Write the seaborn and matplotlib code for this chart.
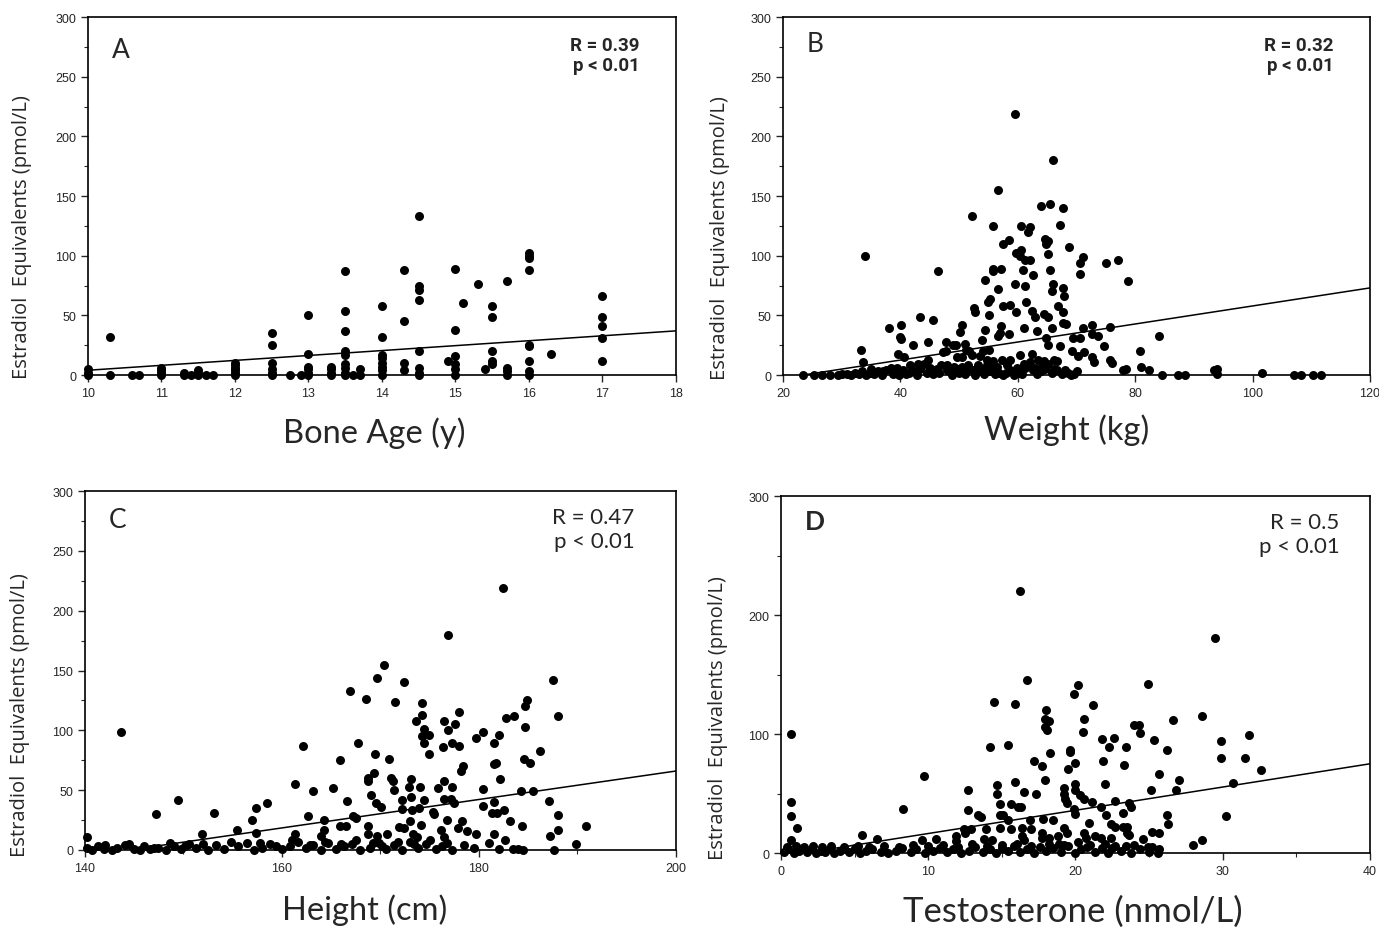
import numpy as np
import pandas as pd
import seaborn as sns
import matplotlib.pyplot as plt
from matplotlib.ticker import MultipleLocator

# ---------- data ----------
# Panel A: bone age (y) vs estradiol equivalents (pmol/L)
a_x = [10.0, 10.0, 10.0, 10.3, 10.3, 10.6, 10.7, 11.0, 11.0, 11.0, 11.0,
       11.3, 11.3, 11.4, 11.5, 11.5, 11.5, 11.6, 11.7,
       12.0, 12.0, 12.0, 12.0, 12.0, 12.0,
       12.5, 12.5, 12.5, 12.5, 12.5, 12.5, 12.75, 12.9,
       13.0, 13.0, 13.0, 13.0, 13.0, 13.0,
       13.3, 13.3, 13.3, 13.3,
       13.5, 13.5, 13.5, 13.5, 13.5, 13.5, 13.5, 13.5, 13.5,
       13.6, 13.7, 13.7,
       14.0, 14.0, 14.0, 14.0, 14.0, 14.0, 14.0, 14.0,
       14.3, 14.3, 14.3, 14.3,
       14.5, 14.5, 14.5, 14.5, 14.5, 14.5, 14.5, 14.5,
       14.9, 15.0, 15.0, 15.0, 15.0, 15.0, 15.0, 15.1, 15.3, 15.4,
       15.5, 15.5, 15.5, 15.5, 15.5,
       15.7, 15.7, 15.7, 15.7,
       16.0, 16.0, 16.0, 16.0, 16.0, 16.0, 16.0, 16.0, 16.0,
       16.3, 17.0, 17.0, 17.0, 17.0, 17.0]
a_y = [0, 2, 5, 32, 0, 0, 0, 0, 2, 4, 6,
       0, 2, 0, 0, 2, 4, 0, 0,
       0, 2, 4, 6, 8, 10,
       35, 25, 10, 5, 2, 0, 0, 0,
       50, 18, 7, 5, 2, 0,
       0, 2, 5, 7,
       87, 54, 37, 20, 17, 9, 6, 2, 0,
       0, 0, 5,
       58, 32, 17, 14, 10, 7, 4, 0,
       88, 45, 10, 4,
       133, 75, 71, 63, 20, 6, 2, 0,
       12, 89, 38, 16, 9, 5, 0, 60, 76, 5,
       58, 49, 20, 12, 9,
       79, 6, 3, 0,
       102, 100, 98, 88, 25, 24, 12, 3, 0,
       18, 66, 49, 41, 31, 12]
a_fit_x = [10, 18]
a_fit_y = [4, 37]

# Panel B: weight (kg)
b_x = [59.5, 66.0, 56.6, 64.0, 65.4, 67.7, 52.2, 55.8, 60.6, 62.1, 61.7, 67.2,
       34.0, 57.4, 58.5, 64.7, 65.2, 64.8, 65.1, 60.5, 59.7, 60.3, 68.7,
       61.2, 62.1, 71.1, 70.6, 70.6, 75.0, 77.0, 78.7, 46.4, 55.8, 57.2, 55.8,
       60.9, 62.6, 65.5, 54.4, 59.6, 61.2, 66.0, 65.9, 67.7, 67.8, 56.6,
       55.3, 55.0, 52.5, 52.7, 57.4, 58.7, 59.7, 61.4, 55.1, 62.4, 63.0,
       64.5, 65.2, 66.8, 67.7, 67.7, 68.2, 50.5, 50.2, 43.3, 45.6, 38.0,
       40.1, 39.9, 40.1, 54.4, 57.1, 56.9, 56.6, 58.5, 61.1, 63.3, 65.8,
       64.8, 65.2, 71.1, 70.6, 72.7, 72.7, 73.6, 75.7, 84.0, 42.1, 44.7,
       47.7, 48.9, 49.4, 51.0, 51.2, 53.9, 55.1, 54.1, 67.2, 69.4, 69.2,
       70.2, 71.3, 74.6, 72.6, 72.9, 75.7, 76.0, 80.8, 33.3, 33.6, 39.6,
       40.6, 44.7, 47.3, 47.8, 49.6, 50.5, 51.7, 52.2, 53.5, 54.8, 55.8,
       58.6, 57.3, 60.4, 62.4, 62.1, 63.4, 64.5, 66.2, 66.6, 68.0, 69.5,
       77.9, 78.5, 81.0, 82.3, 84.6, 87.3, 88.5, 93.4, 94.0, 94.0, 101.6,
       107.1, 108.3, 110.3, 111.7,
       # low cluster
       23.4, 25.2, 26.7, 28.0, 29.3, 30.0, 30.9, 31.5, 32.2, 33.0, 33.5,
       34.2, 34.8, 35.5, 36.2, 36.8, 37.5, 38.4, 38.8, 39.1, 39.8, 40.4,
       41.0, 41.7, 42.3, 42.8, 43.3, 44.0, 44.5, 45.0, 45.5, 46.0, 46.5,
       47.0, 47.9, 48.3, 48.8, 49.6, 50.0, 50.5, 51.0, 51.5, 52.2, 52.7,
       53.2, 53.8, 54.3, 54.8, 55.3, 55.8, 56.1, 56.8, 57.4, 58.1, 58.7,
       59.4, 60.0, 60.7, 61.2, 61.7, 62.6, 63.2, 63.9, 64.6, 65.2, 65.9,
       66.6, 67.5, 68.5, 69.0, 70.0,
       35.0, 37.0, 39.5, 41.5, 43.0, 44.8, 46.3, 48.0, 49.2, 51.2, 53.0,
       54.5, 56.5, 58.0, 59.8, 61.0, 62.9, 64.2, 66.2]
b_y = [219, 180, 155, 142, 143, 140, 133, 125, 125, 124, 120, 126,
       100, 110, 113, 114, 112, 110, 101, 105, 102, 100, 107,
       96, 96, 99, 94, 85, 94, 96, 79, 87, 89, 89, 87,
       88, 84, 88, 80, 76, 75, 76, 70, 73, 66, 72,
       64, 61, 56, 53, 58, 59, 53, 61, 50, 54, 49,
       51, 49, 58, 53, 44, 43, 42, 36, 49, 46, 39,
       42, 32, 30, 38, 41, 35, 33, 34, 39, 37, 39,
       31, 25, 39, 31, 42, 34, 33, 40, 33, 25, 28,
       28, 25, 25, 26, 21, 29, 21, 20, 24, 31, 20,
       16, 19, 24, 15, 11, 13, 10, 20, 21, 11, 18,
       15, 13, 19, 20, 15, 15, 20, 17, 16, 13, 12,
       13, 13, 17, 18, 11, 13, 12, 13, 12, 4, 1,
       4, 5, 7, 4, 0, 0, 0, 4, 5, 1, 2,
       0, 0, 0, 0,
       0, 0, 0, 0, 0, 1, 1, 0, 2, 1, 3,
       0, 2, 1, 3, 0, 4, 6, 1, 2, 0, 4,
       1, 8, 3, 0, 5, 9, 2, 6, 1, 4, 2,
       8, 8, 3, 0, 5, 2, 7, 1, 8, 4, 0,
       8, 4, 1, 8, 3, 6, 1, 2, 0, 8, 4,
       0, 2, 1, 6, 8, 4, 1, 3, 5, 9, 2,
       4, 1, 2, 0, 3,
       5, 3, 6, 2, 9, 3, 5, 4, 7, 3, 6,
       5, 7, 2, 6, 9, 6, 7, 5]
b_fit_x = [23.4, 120]
b_fit_y = [0, 73]

# Panel C: height (cm)
c_x = [182.4, 176.9, 170.4, 169.6, 172.4, 166.9, 187.5, 168.5, 171.5, 174.2,
       184.9, 184.7, 188.0, 174.2, 173.6, 178.0, 176.5, 177.6, 176.9, 182.7,
       183.6, 184.7, 143.7, 174.4, 174.2, 174.9, 174.4, 174.9, 180.4, 179.7,
       182.0, 181.5, 176.3, 177.3, 178.0, 167.7, 162.1, 186.2, 169.4, 170.9,
       165.9, 184.6, 185.2, 178.4, 178.2, 181.5, 181.7, 169.3, 168.7, 168.7,
       171.1, 171.3, 171.4, 173.1, 172.9, 174.0, 176.5, 175.8, 177.3, 182.1,
       161.3, 163.2, 165.2, 180.4, 184.3, 185.5, 149.4, 166.6, 169.0, 169.5,
       170.1, 172.2, 173.1, 174.4, 176.5, 177.2, 177.5, 180.4, 181.5, 181.3,
       181.8, 182.5, 187.1, 157.4, 158.5, 157.0, 153.1, 147.2, 162.6, 164.3,
       167.2, 167.5, 172.2, 173.2, 173.0, 173.9, 174.1, 175.3, 175.4, 176.8,
       178.3, 183.1, 184.4, 188.0, 190.9, 151.9, 155.4, 157.4, 161.3, 164.3,
       164.0, 165.9, 166.5, 168.7, 171.9, 172.4, 168.7, 169.6, 170.7, 173.3,
       173.7, 176.1, 176.5, 177.9, 178.8, 179.7, 181.5, 182.6, 188.0, 187.2,
       189.8, 140.2,
       # low cluster
       140.2, 140.7, 141.3, 141.9, 142.7, 143.3, 144.1, 145.0, 145.6, 146.0,
       146.6, 147.4, 148.2, 149.0, 149.8, 150.6, 151.3, 152.5, 153.3, 154.1,
       155.5, 156.5, 157.2, 158.0, 158.8, 160.0, 160.8, 161.6, 162.4, 163.2,
       164.0, 164.7, 165.5, 166.3, 167.1, 167.9, 168.9, 169.9, 170.6, 171.4,
       172.2, 173.0, 173.8, 174.6, 175.6, 176.2, 177.3, 178.5, 179.5, 181.0,
       182.0, 183.5, 184.0, 184.5, 187.6,
       142.0, 144.5, 147.0, 148.6, 150.2, 152.0, 154.8, 157.8, 159.4, 161.0,
       162.8, 164.4, 166.0, 167.5, 169.2, 170.2, 171.8, 173.4, 175.0, 176.8]
c_y = [219, 180, 155, 144, 140, 133, 142, 126, 124, 123,
       125, 120, 112, 113, 108, 115, 108, 105, 100, 110,
       112, 103, 99, 101, 95, 96, 89, 80, 99, 94,
       96, 89, 86, 89, 87, 89, 87, 83, 80, 76,
       75, 76, 73, 70, 66, 72, 73, 64, 60, 58,
       60, 58, 50, 59, 53, 53, 58, 52, 53, 59,
       55, 49, 52, 51, 49, 49, 42, 41, 46, 39,
       36, 42, 44, 42, 43, 43, 39, 37, 40, 31,
       31, 33, 41, 35, 39, 25, 31, 30, 28, 25,
       28, 27, 34, 33, 24, 35, 21, 32, 30, 25,
       24, 24, 20, 29, 20, 13, 17, 14, 13, 17,
       12, 20, 20, 20, 19, 18, 13, 12, 13, 13,
       11, 17, 11, 18, 16, 13, 13, 8, 17, 12,
       5, 11,
       2, 0, 3, 1, 0, 2, 4, 1, 0, 3,
       1, 2, 0, 3, 1, 5, 2, 0, 4, 1,
       3, 6, 0, 2, 5, 1, 3, 7, 2, 4,
       0, 6, 1, 3, 5, 0, 2, 6, 1, 4,
       0, 7, 2, 5, 1, 3, 0, 4, 2, 6,
       1, 1, 1, 0, 0,
       4, 5, 2, 6, 3, 5, 7, 6, 3, 8,
       4, 7, 5, 8, 6, 3, 7, 5, 8, 6]
c_fit_x = [144.5, 200]
c_fit_y = [0, 66]

# Panel D: testosterone (nmol/L)
d_x = [16.2, 29.5, 16.7, 24.9, 20.2, 19.9, 14.5, 15.9, 21.2, 18.0,
       17.9, 18.2, 17.9, 18.1, 20.6, 20.5, 28.6, 26.6, 24.0, 24.3,
       24.4, 25.3, 26.2, 29.9, 29.9, 31.8, 31.5, 32.6, 0.7, 14.2,
       15.4, 21.8, 22.6, 22.3, 23.4, 19.6, 19.6, 18.3, 21.9, 20.0,
       19.5, 23.3, 17.2, 17.7, 25.7, 9.7, 15.9, 17.9, 14.7, 14.7,
       22.0, 30.7, 27.0, 26.8, 25.1, 19.2, 19.2, 19.3, 19.4, 20.0,
       20.0, 20.3, 20.6, 21.1, 12.7, 12.7, 16.5, 17.3, 22.7, 23.6,
       23.8, 23.2, 21.7, 22.1, 14.9, 15.6, 16.1, 16.3, 14.9, 15.1,
       19.9, 20.0, 8.3, 13.4, 13.6, 26.2, 26.3, 30.2, 17.8, 18.5,
       16.9, 15.4, 0.7, 0.7, 1.1, 22.4, 22.7, 23.2, 23.5, 20.9,
       19.2, 19.4, 13.9, 14.9, 15.6, 12.4, 12.5, 12.9, 16.4, 17.0,
       17.7, 17.7, 23.5, 23.6, 25.2, 25.7, 24.6, 28.6, 28.0, 5.5,
       6.5, 9.6, 10.5, 11.9, 11.9, 13.8, 14.3, 16.4, 16.5, 18.2,
       18.8, 18.9, 20.6, 20.7, 21.3, 21.7, 22.4, 22.5, 24.9, 25.2,
       25.7, 0.7,
       # low cluster
       0.2, 0.5, 0.9, 1.2, 1.5, 1.8, 2.1, 2.4, 2.7, 3.0, 3.3, 3.6, 4.0,
       4.6, 5.0, 5.4, 5.8, 6.2, 6.8, 7.3, 7.8, 8.2, 8.8, 9.2, 9.8, 10.3,
       10.8, 11.3, 11.7, 12.2, 12.8, 13.2, 13.7, 14.2, 14.6, 15.0, 15.4,
       15.8, 16.2, 16.7, 17.2, 17.6, 18.0, 18.5, 19.0, 19.5, 20.0, 20.4,
       20.8, 21.3, 21.8, 22.2, 22.7, 23.1, 23.8, 24.4, 25.0, 25.6,
       0.4, 1.0, 1.6, 2.2, 2.8, 3.4, 4.3, 5.2, 6.0, 7.0, 8.0, 9.0, 10.0,
       11.0, 12.0, 13.0, 14.0, 15.0, 16.0, 17.0, 18.2, 19.2, 20.2, 21.0,
       22.0, 23.4, 24.0]
d_y = [220, 181, 145, 142, 141, 134, 127, 125, 124, 120,
       113, 111, 106, 103, 113, 102, 115, 112, 108, 108,
       101, 95, 87, 94, 80, 99, 80, 70, 100, 89,
       91, 96, 97, 89, 89, 87, 85, 84, 77, 76,
       71, 74, 77, 73, 66, 65, 60, 61, 57, 50,
       58, 59, 61, 53, 53, 55, 50, 45, 42, 58,
       53, 49, 45, 43, 53, 36, 51, 50, 44, 42,
       39, 34, 39, 32, 41, 41, 39, 39, 32, 32,
       37, 33, 37, 32, 30, 32, 24, 31, 29, 28,
       28, 28, 43, 31, 21, 24, 22, 22, 22, 25,
       21, 17, 20, 21, 20, 20, 17, 20, 21, 20,
       17, 13, 17, 15, 18, 17, 12, 11, 7, 15,
       12, 11, 12, 14, 10, 12, 11, 14, 11, 13,
       14, 8, 17, 13, 14, 13, 13, 4, 5, 5,
       3, 11,
       1, 3, 0, 2, 4, 1, 3, 0, 2, 1, 3, 0, 2,
       1, 4, 0, 2, 3, 1, 0, 2, 4, 1, 3, 0, 2,
       4, 1, 3, 0, 2, 5, 1, 3, 0, 4, 2,
       6, 1, 3, 0, 5, 2, 4, 1, 6, 0, 3,
       5, 1, 4, 0, 6, 2, 0, 3, 1, 0,
       5, 6, 5, 6, 5, 6, 5, 6, 5, 6, 5, 7, 6,
       7, 5, 8, 6, 7, 8, 6, 8, 7, 9, 7,
       8, 6, 7]
d_fit_x = [1.6, 40]
d_fit_y = [0, 75]

ylabel = "Estradiol  Equivalents (pmol/L)"

# ---------- plotting ----------
sns.set_style("ticks")
plt.rcParams["font.family"] = ["Lato", "DejaVu Sans"]

fig = plt.figure(figsize=(13.79, 9.28), dpi=100)

panels = [
    dict(rect=[0.0638, 0.5948, 0.4264, 0.3858], x=a_x, y=a_y, fx=a_fit_x, fy=a_fit_y,
         xlim=(10, 18), xmaj=1, xmin=None, ymaj=50, ymin=25,
         xlabel="Bone Age (y)", xls=23.5, xlc=(0.486, -0.16), ylc=(-0.112, 0.388),
         letter="A", ly=0.91, r="R = 0.39", bold_stats=True, bold_letter=False),
    dict(rect=[0.5678, 0.5948, 0.4257, 0.3858], x=b_x, y=b_y, fx=b_fit_x, fy=b_fit_y,
         xlim=(20, 120), xmaj=20, xmin=None, ymaj=50, ymin=25,
         xlabel="Weight (kg)", xls=23.5, xlc=(0.484, -0.152), ylc=(-0.107, 0.385),
         letter="B", ly=0.925, r="R = 0.32", bold_stats=True, bold_letter=False),
    dict(rect=[0.0616, 0.0830, 0.4286, 0.3868], x=c_x, y=c_y, fx=c_fit_x, fy=c_fit_y,
         xlim=(140, 200), xmaj=20, xmin=10, ymaj=50, ymin=25,
         xlabel="Height (cm)", xls=23.5, xlc=(0.474, -0.164), ylc=(-0.11, 0.378),
         letter="C", ly=0.922, r="R = 0.47", bold_stats=False, bold_letter=False),
    dict(rect=[0.5663, 0.0797, 0.4272, 0.3847], x=d_x, y=d_y, fx=d_fit_x, fy=d_fit_y,
         xlim=(0, 40), xmaj=10, xmin=5, ymaj=100, ymin=50,
         xlabel="Testosterone (nmol/L)", xls=25, xlc=(0.496, -0.162), ylc=(-0.107, 0.38),
         letter="D", ly=0.93, r="R = 0.5", bold_stats=False, bold_letter=True),
]

for p in panels:
    ax = fig.add_axes(p["rect"])
    df = pd.DataFrame({"x": p["x"], "y": p["y"]})
    sns.scatterplot(data=df, x="x", y="y", ax=ax, color="black", s=42,
                    linewidth=0, clip_on=False, zorder=3)
    sns.lineplot(x=p["fx"], y=p["fy"], ax=ax, color="black", linewidth=1.1)
    ax.set_xlim(*p["xlim"])
    ax.set_ylim(0, 300)
    ax.xaxis.set_major_locator(MultipleLocator(p["xmaj"]))
    if p["xmin"]:
        ax.xaxis.set_minor_locator(MultipleLocator(p["xmin"]))
    ax.yaxis.set_major_locator(MultipleLocator(p["ymaj"]))
    ax.yaxis.set_minor_locator(MultipleLocator(p["ymin"]))
    ax.tick_params(which="major", length=5, width=1, labelsize=9, direction="out")
    ax.tick_params(which="minor", length=3, width=0.8, direction="out")
    for lab in ax.get_xticklabels() + ax.get_yticklabels():
        lab.set_fontfamily(["Liberation Sans", "DejaVu Sans"])
    for s in ax.spines.values():
        s.set_linewidth(1.2)
        s.set_color("black")

    ax.set_xlabel(p["xlabel"], fontsize=p["xls"], va="center", ha="center")
    ax.xaxis.set_label_coords(*p["xlc"])
    ax.set_ylabel(ylabel, fontsize=14.5, va="center", ha="center",
                  family=["Open Sans", "DejaVu Sans"])
    ax.yaxis.set_label_coords(*p["ylc"])

    ax.text(0.04, p["ly"], p["letter"], transform=ax.transAxes, fontsize=19,
            fontweight="bold" if p["bold_letter"] else "normal", va="center")
    if p["bold_stats"]:
        ax.text(0.938, 0.894, p["r"] + "\np < 0.01", transform=ax.transAxes,
                fontsize=13.5, fontweight="bold", ha="right", va="center",
                family=["Roboto", "DejaVu Sans"], linespacing=1.2)
    else:
        ax.text(0.948 if p["letter"] == "D" else 0.93, 0.895, p["r"] + "\np < 0.01",
                transform=ax.transAxes, fontsize=16, ha="right", va="center",
                linespacing=1.25)

plt.savefig("out.png", dpi=100)
